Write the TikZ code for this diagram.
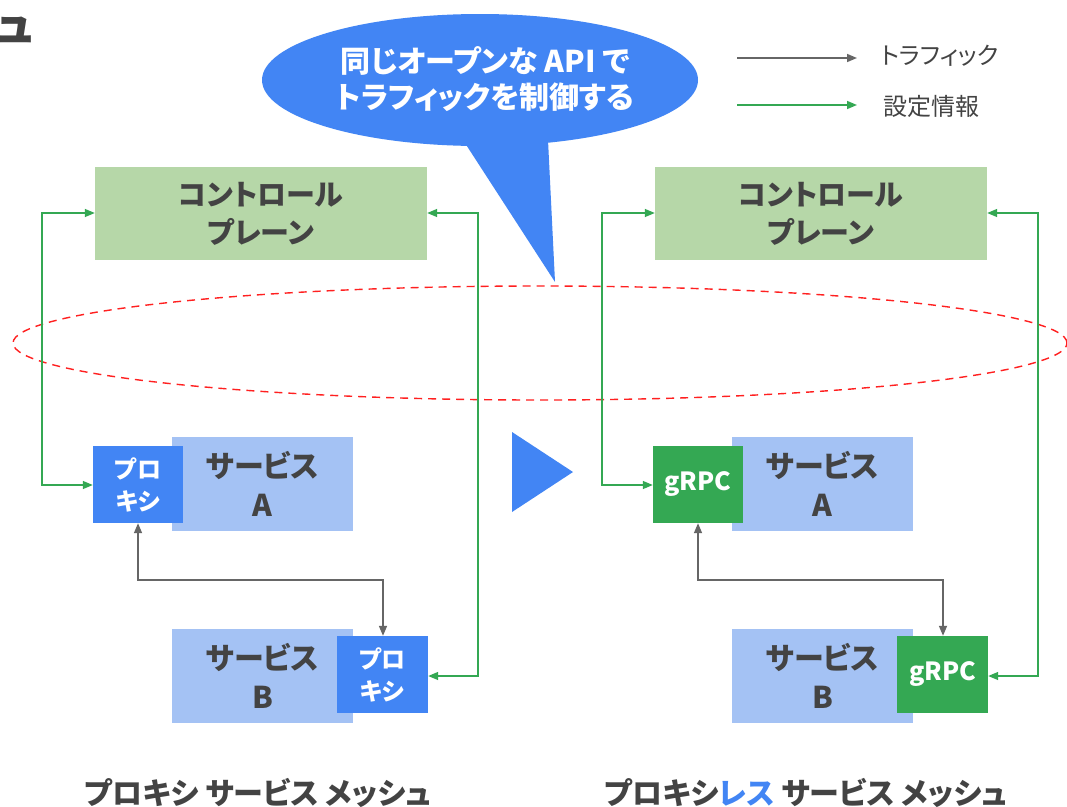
\documentclass[tikz,border=0pt]{standalone}
\usepackage{fontspec}
\setmainfont{Noto Sans CJK JP}[RawFeature=+palt]
\usetikzlibrary{arrows.meta}
\definecolor{gblue}{HTML}{4285F4}
\definecolor{lblue}{HTML}{A4C2F4}
\definecolor{cpgreen}{HTML}{B6D7A8}
\definecolor{ggreen}{HTML}{34A853}
\definecolor{txt}{HTML}{434343}
\definecolor{arrgray}{HTML}{666666}
\definecolor{dred}{HTML}{FF2020}
\tikzset{
  cpbox/.style={fill=cpgreen, minimum width=332pt, minimum height=93pt, inner sep=0pt,
    text=txt, font=\fontsize{29}{38}\selectfont\bfseries, align=center},
  svcbox/.style={fill=lblue, minimum width=181pt, minimum height=94pt, inner sep=0pt,
    text=txt, font=\fontsize{30}{39}\selectfont\bfseries, align=center},
  proxybox/.style={fill=gblue, minimum width=90pt, minimum height=77pt, inner sep=0pt,
    text=white, font=\fontsize{24}{32}\selectfont\bfseries, align=center},
  grpcbox/.style={fill=ggreen, minimum width=90pt, minimum height=77pt, inner sep=0pt,
    text=white, font=\fontsize{25}{32}\selectfont\bfseries, align=center},
  cfgline/.style={draw=ggreen, line width=1.4pt, {Triangle[length=10pt,width=8pt]}-{Triangle[length=10pt,width=8pt]}},
  trafline/.style={draw=arrgray, line width=1.6pt, {Triangle[length=10pt,width=8pt]}-{Triangle[length=10pt,width=8pt]}},
  legline/.style={line width=1.6pt, -{Triangle[length=10pt,width=8pt]}},
  legtext/.style={text=txt, font=\fontsize{24}{26}\selectfont, anchor=west, inner sep=0pt},
  titletext/.style={text=txt, font=\fontsize{30}{32}\selectfont\bfseries, inner sep=0pt},
}
\begin{document}
\begin{tikzpicture}[x=1pt,y=-1pt]
\useasboundingbox (0,0) rectangle (1067,806);
\fill[white] (0,0) rectangle (1067,806);

% cut-off title fragment
\node[text=txt, font=\fontsize{46}{50}\selectfont\bfseries, anchor=east, inner sep=0pt] (frag) at (34,30) {ュ};

% speech bubble
\fill[gblue] (480,80) ellipse [x radius=218pt, y radius=66pt];
\fill[gblue] (463,140) -- (555,282) -- (548,140) -- cycle;
\node[text=white, font=\fontsize{30}{36}\selectfont\bfseries, align=center] (bubble) at (485,79) {同じオープンな API で\\トラフィックを制御する};

% legend
\coordinate (lg1s) at (737,58); \coordinate (lg1e) at (857,58);
\coordinate (lg2s) at (737,105); \coordinate (lg2e) at (857,105);
\draw[legline, arrgray] (lg1s) -- (lg1e);
\draw[legline, ggreen] (lg2s) -- (lg2e);
\node[legtext] (leg1) at (881,56) {トラフィック};
\node[legtext] (leg2) at (883,106) {設定情報};

% red dashed ellipse
\draw[dred, line width=1.4pt, dash pattern=on 8pt off 6pt] (540,343) ellipse [x radius=527pt, y radius=57pt];

% left side
\node[cpbox] (cpL) at (261,213.5) {コントロール\\プレーン};
\node[svcbox] (saL) at (262.5,484) {サービス\\A};
\node[proxybox] (paL) at (138,484.5) {プロ\\キシ};
\node[svcbox] (sbL) at (262.5,676) {サービス\\B};
\node[proxybox, minimum width=91pt] (pbL) at (382.5,674.5) {プロ\\キシ};

\draw[cfgline] (cpL.west |- 0,213) -- (42,213) -- (42,485) -- (paL.west |- 0,485);
\draw[cfgline] (cpL.east |- 0,213) -- (478,213) -- (478,676) -- (pbL.east |- 0,676);
\draw[trafline] (paL.south) -- (138,580) -- (383,580) -- (pbL.north -| 383,0);

% play triangle
\fill[gblue] (512,432) -- (573,472) -- (512,512) -- cycle;

% right side
\node[cpbox] (cpR) at (821,213.5) {コントロール\\プレーン};
\node[svcbox] (saR) at (822.5,484) {サービス\\A};
\node[grpcbox] (gaR) at (698,484.5) {gRPC};
\node[svcbox] (sbR) at (822.5,676) {サービス\\B};
\node[grpcbox, minimum width=91pt] (gbR) at (942.5,674.5) {gRPC};

\draw[cfgline] (cpR.west |- 0,213) -- (602,213) -- (602,485) -- (gaR.west |- 0,485);
\draw[cfgline] (cpR.east |- 0,213) -- (1038,213) -- (1038,676) -- (gbR.east |- 0,676);
\draw[trafline] (gaR.south) -- (698,580) -- (943,580) -- (gbR.north -| 943,0);

% titles
\node[titletext] (tL) at (258,793) {プロキシ サービス メッシュ};
\node[titletext] (tR) at (806,793) {プロキシ{\color{gblue}レス} サービス メッシュ};
\end{tikzpicture}
\end{document}
